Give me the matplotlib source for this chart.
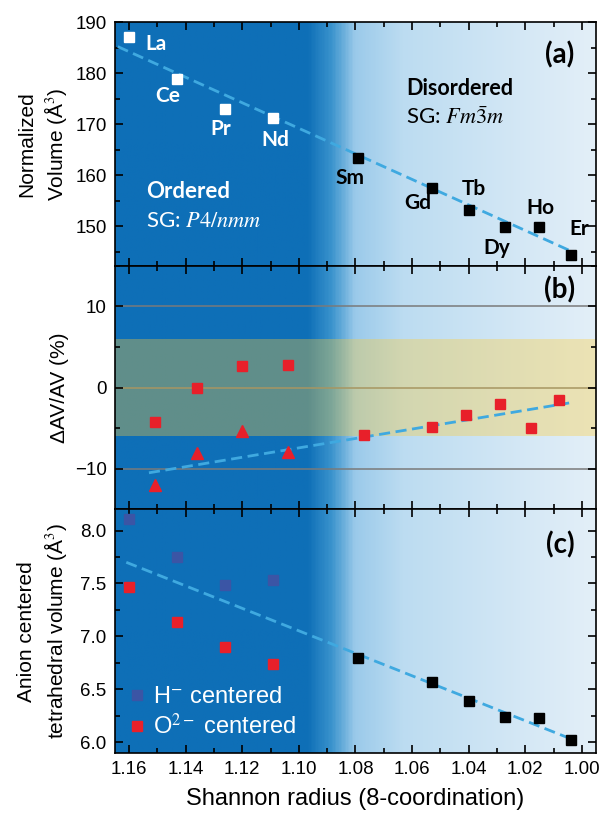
"""Normalized volume, volume change and anion-centred tetrahedral volume vs Shannon radius."""
import matplotlib
matplotlib.use("Agg")
import matplotlib.pyplot as plt
import numpy as np
from matplotlib.colors import LinearSegmentedColormap
from matplotlib.ticker import FormatStrFormatter, MultipleLocator

plt.rcParams["font.family"] = ["Liberation Sans", "DejaVu Sans"]
plt.rcParams["mathtext.fontset"] = "stix"

# --- data ---
elements = ["La", "Ce", "Pr", "Nd", "Sm", "Gd", "Tb", "Dy", "Ho", "Er"]
radius = [1.160, 1.143, 1.126, 1.109, 1.079, 1.053, 1.040, 1.027, 1.015, 1.004]
norm_vol = [187.1, 178.8, 172.9, 171.2, 163.3, 157.6, 153.3, 149.8, 149.8, 144.3]
fit_a_x = [1.164, 1.004]
fit_a_y = [185.2, 145.2]

dv_ord_x = [1.151, 1.136, 1.120, 1.104]
dv_ord_sq = [-4.3, -0.1, 2.7, 2.8]
dv_ord_tri = [-12.0, -8.1, -5.3, -7.9]
dv_dis_x = [1.077, 1.053, 1.041, 1.029, 1.018, 1.008]
dv_dis = [-5.9, -4.8, -3.4, -2.0, -5.0, -1.5]
fit_b_x = [1.153, 1.0045]
fit_b_y = [-10.5, -1.9]
band_b = [-6.0, 6.0]

h_vol = [8.11, 7.75, 7.49, 7.53]
o_vol = [7.47, 7.14, 6.90, 6.74]
dis_vol = [6.80, 6.57, 6.39, 6.24, 6.23, 6.02]
fit_c_x = [1.161, 1.0045]
fit_c_y = [7.70, 6.04]

XLIM = (1.165, 0.995)
RED = "#e8202a"
HBLUE = "#3b55a5"
DASH = "#3fa9e0"
LATO = ["Lato", "DejaVu Sans"]

bg_cmap = LinearSegmentedColormap.from_list("bg", [
    (0.0, "#0e6fb7"), (0.40, "#0e6fb7"), (0.45, "#3a93cd"),
    (0.50, "#9bcaea"), (0.60, "#bcdcf1"), (1.0, "#e3eff8")])

fig, axes = plt.subplots(3, 1, figsize=(6.02, 8.18), dpi=100, sharex=True)
fig.subplots_adjust(left=0.191, right=0.990, top=0.973, bottom=0.0795, hspace=0)


def style_axis(ax, ylim, major, minor):
    ax.set_xlim(*XLIM)
    ax.set_ylim(*ylim)
    grad = np.linspace(0, 1, 400).reshape(1, -1)
    ax.imshow(grad, cmap=bg_cmap, aspect="auto", zorder=0,
              extent=[XLIM[0], XLIM[1], ylim[0], ylim[1]])
    ax.yaxis.set_major_locator(MultipleLocator(major))
    ax.yaxis.set_minor_locator(MultipleLocator(minor))
    ax.xaxis.set_major_locator(MultipleLocator(0.02))
    ax.xaxis.set_minor_locator(MultipleLocator(0.01))
    ax.tick_params(which="both", direction="in", top=True, right=True,
                   labelsize=13.5, width=1.2)
    ax.tick_params(which="major", length=6, pad=6)
    ax.tick_params(which="minor", length=3.5)
    for s in ax.spines.values():
        s.set_linewidth(1.2)


# --- (a) normalized volume ---
ax = axes[0]
style_axis(ax, (142.3, 190), 10, 5)
ax.plot(fit_a_x, fit_a_y, ls=(0, (4, 2)), color=DASH, lw=2, zorder=2)
ax.plot(radius[:4], norm_vol[:4], "s", color="white", ms=7.5, zorder=3)
ax.plot(radius[4:], norm_vol[4:], "s", color="black", ms=7.5, zorder=3)
offsets = [(19, -5), (-7, -12), (-3, -14), (1, -16), (-6, -14),
           (-10, -11), (4, 15), (-6, -15), (1, 14), (6, 19)]
for i, (el, off) in enumerate(zip(elements, offsets)):
    ax.annotate(el, (radius[i], norm_vol[i]), xytext=off, textcoords="offset points",
                ha="center", va="center", fontsize=15, fontweight="bold",
                family=LATO, color="white" if i < 4 else "black", zorder=4)
ax.text(1.154, 156.9, "Ordered", color="white", fontsize=16, fontweight="bold",
        family=LATO, va="center")
ax.text(1.154, 151.0, "SG: $P4/nmm$", color="white", fontsize=16,
        family=LATO, va="center")
ax.text(1.062, 177.0, "Disordered", color="black", fontsize=15.5, fontweight="bold",
        family=LATO, va="center")
ax.text(1.062, 171.4, r"SG: $Fm\bar{3}m$", color="black", fontsize=16,
        family=LATO, va="center")
ax.text(0.925, 0.865, "(a)", transform=ax.transAxes, ha="center", va="center",
        fontsize=20, fontweight="bold", family=LATO)
ax.set_ylabel("Normalized\nVolume (Å$^3$)", fontsize=15, linespacing=1.3)

# --- (b) relative volume change ---
ax = axes[1]
style_axis(ax, (-15, 15), 10, 5)
for yv in (-10, 0, 10):
    ax.axhline(yv, color="#7a7a7a", lw=1.1, zorder=1)
ax.axhspan(band_b[0], band_b[1], color=(1.0, 0.80, 0.20), alpha=0.34, lw=0, zorder=1)
ax.plot(fit_b_x, fit_b_y, ls=(0, (4, 2)), color=DASH, lw=2, zorder=2)
ax.plot(dv_ord_x, dv_ord_sq, "s", color=RED, ms=7.5, zorder=3)
ax.plot(dv_ord_x, dv_ord_tri, "^", color=RED, ms=9, zorder=3)
ax.plot(dv_dis_x, dv_dis, "s", color=RED, ms=7.5, zorder=3)
ax.text(0.925, 0.90, "(b)", transform=ax.transAxes, ha="center", va="center",
        fontsize=20, fontweight="bold", family=LATO)
ax.set_ylabel("ΔAV/AV (%)", fontsize=15)

# --- (c) anion-centred tetrahedral volume ---
ax = axes[2]
style_axis(ax, (5.9, 8.2), 0.5, 0.25)
ax.yaxis.set_major_formatter(FormatStrFormatter("%.1f"))
ax.plot(fit_c_x, fit_c_y, ls=(0, (4, 2)), color=DASH, lw=2, zorder=2)
ax.plot(radius[:4], h_vol, "s", color=HBLUE, ms=7.5, zorder=3, label="H$^{-}$ centered")
ax.plot(radius[:4], o_vol, "s", color=RED, ms=7.5, zorder=3, label="O$^{2-}$ centered")
ax.plot(radius[4:], dis_vol, "s", color="black", ms=7.5, zorder=3)
leg = ax.legend(loc="lower left", frameon=False, fontsize=17, handlelength=0.7,
                handletextpad=0.3, borderaxespad=0.2, labelspacing=0.2)
for t in leg.get_texts():
    t.set_color("white")
ax.text(0.925, 0.856, "(c)", transform=ax.transAxes, ha="center", va="center",
        fontsize=20, fontweight="bold", family=LATO)
ax.set_ylabel("Anion centered\ntetrahedral volume (Å$^3$)", fontsize=15, linespacing=1.3)
ax.set_xlabel("Shannon radius (8-coordination)", fontsize=17, labelpad=7)
ax.xaxis.set_major_formatter(FormatStrFormatter("%.2f"))

fig.align_ylabels(axes)
fig.savefig("out.png", dpi=100)
